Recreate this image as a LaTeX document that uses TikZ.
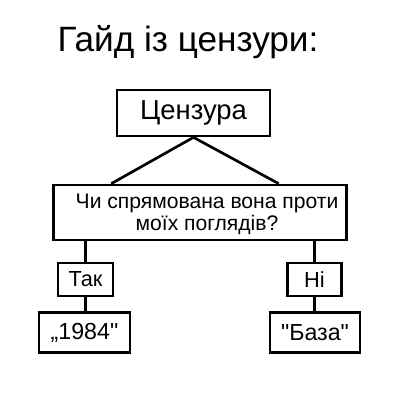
\documentclass[tikz,border=0pt]{standalone}
\usepackage{fontspec}
\setmainfont{Liberation Sans}[Ligatures=TeXOff]
\usetikzlibrary{calc, positioning}

\begin{document}
\begin{tikzpicture}[x=0.025cm, y=0.025cm,
    box/.style={draw, line width=1.9pt, inner sep=0pt},
    link/.style={line width=1.9pt}]

    % =================================================================
    % 1. KHUNG VA TIEU DE
    % =================================================================
    \useasboundingbox[fill=white] (0,0) rectangle (400,400);

    \node[anchor=base, font=\fontsize{25}{29}\selectfont] (title) at (188,348)
        {Гайд із цензури:};

    % =================================================================
    % 2. CAC O CUA SO DO
    % =================================================================
    \node[box, minimum width=3.825cm, minimum height=1.15cm,
          font=\fontsize{19.5}{23}\selectfont] (cenz) at (193.5,287) {Цензура};

    % O cau hoi (chu lech sang phai mot chut)
    \node[box, minimum width=7.325cm, minimum height=1.375cm] (quest) at (200,187.5) {};
    \node[align=center, inner sep=0pt, font=\fontsize{15}{15.8}\selectfont]
        (qtext) at (207,186) {Чи спрямована вона проти\\ моїх поглядів?};

    \node[box, minimum width=1.375cm, minimum height=0.825cm,
          font=\fontsize{15.5}{18}\selectfont] (tak) at (85.5,120.5) {Так};
    \node[box, minimum width=1.35cm, minimum height=0.825cm,
          font=\fontsize{15.5}{18}\selectfont] (ni) at (314.5,120.5) {Ні};

    \node[box, minimum width=2.275cm, minimum height=1cm,
          font=\fontsize{16.5}{19}\selectfont] (book) at (84.5,67.5) {„1984"};
    \node[box, minimum width=2.25cm, minimum height=1cm,
          font=\fontsize{16.5}{19}\selectfont] (baza) at (315,67.5) {"База"};

    % =================================================================
    % 3. CAC DUONG NOI
    % =================================================================
    \draw[link] (cenz.south) -- ($(quest.north west)!0.2!(quest.north east)$);
    \draw[link] (cenz.south) -- ($(quest.north west)!0.766!(quest.north east)$);

    \draw[link] (tak.north) -- (tak.north |- quest.south);
    \draw[link] (ni.north) -- (ni.north |- quest.south);
    \draw[link] (tak.south) -- (tak.south |- book.north);
    \draw[link] (ni.south) -- (ni.south |- baza.north);

\end{tikzpicture}
\end{document}
